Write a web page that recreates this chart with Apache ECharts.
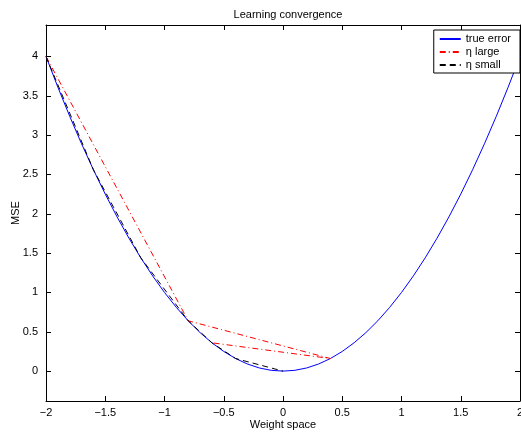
<!DOCTYPE html>
<html>
<head>
<meta charset="utf-8">
<script src="https://cdn.jsdelivr.net/npm/echarts@6/dist/echarts.min.js"></script>
<style>
  html, body { margin: 0; padding: 0; background: #fff; }
  #chart { width: 521px; height: 434px; }
</style>
</head>
<body>
<div id="chart"></div>
<script>
// true error curve
var trueX = [-2, -1.9, -1.8, -1.7, -1.6, -1.5, -1.4, -1.3, -1.2, -1.1, -1, -0.9, -0.8, -0.7, -0.6, -0.5, -0.4, -0.3, -0.2, -0.1, 0,
             0.1, 0.2, 0.3, 0.4, 0.5, 0.6, 0.7, 0.8, 0.9, 1, 1.1, 1.2, 1.3, 1.4, 1.5, 1.6, 1.7, 1.8, 1.9, 2];
var trueY = [4, 3.61, 3.24, 2.89, 2.56, 2.25, 1.96, 1.69, 1.44, 1.21, 1, 0.81, 0.64, 0.49, 0.36, 0.25, 0.16, 0.09, 0.04, 0.01, 0,
             0.01, 0.04, 0.09, 0.16, 0.25, 0.36, 0.49, 0.64, 0.81, 1, 1.21, 1.44, 1.69, 1.96, 2.25, 2.56, 2.89, 3.24, 3.61, 4];

// eta large steps
var largeX = [-2, -0.8, 0.4, -0.6];
var largeY = [4, 0.64, 0.16, 0.36];

// eta small steps
var smallX = [-2, -1.6, -1.2, -0.8, -0.6, -0.4, 0];
var smallY = [4, 2.56, 1.44, 0.64, 0.36, 0.16, 0];

var yTicks = [0, 0.5, 1, 1.5, 2, 2.5, 3, 3.5, 4];
var seriesNames = ['true error', '\u03b7 large', '\u03b7 small'];

function pairs(xs, ys) {
  return xs.map(function (x, i) { return [x, ys[i]]; });
}
function minus(v) {
  return String(v).replace('-', '\u2212');
}

var font = 'Liberation Sans, Arial, sans-serif';
var chart = echarts.init(document.getElementById('chart'));

var baseAxisLine = { show: true, onZero: false, lineStyle: { color: '#000', width: 1 } };
var baseTick = { show: true, inside: true, length: 5, lineStyle: { color: '#000', width: 1 } };

chart.setOption({
  animation: false,
  backgroundColor: '#fff',
  title: {
    text: 'Learning convergence',
    left: 283, top: 4, textAlign: 'center',
    textStyle: { fontFamily: font, fontSize: 11, fontWeight: 'normal', color: '#000' }
  },
  legend: {
    data: seriesNames,
    orient: 'vertical',
    right: 1, top: 30,
    itemWidth: 21, itemHeight: 8, itemGap: 1,
    padding: [3, 9, 2, 5],
    backgroundColor: '#fff',
    borderColor: '#000', borderWidth: 1, borderRadius: 0,
    selectedMode: false,
    itemStyle: { opacity: 0 },
    lineStyle: { type: 'inherit' },
    textStyle: { fontFamily: font, fontSize: 11, lineHeight: 12, color: '#000' }
  },
  grid: { left: 46, right: 1, top: 25, bottom: 33, containLabel: false, outerBoundsMode: 'none' },
  xAxis: [{
    type: 'value', min: -2, max: 2, interval: 0.5,
    name: 'Weight space', nameLocation: 'middle', nameGap: 18, nameMoveOverlap: false,
    nameTextStyle: { fontFamily: font, fontSize: 11, color: '#000' },
    axisLine: baseAxisLine, axisTick: baseTick,
    axisLabel: { color: '#000', fontFamily: font, fontSize: 11, margin: 6, formatter: minus },
    splitLine: { show: false }
  }, {
    type: 'value', min: -2, max: 2, interval: 0.5, position: 'top',
    axisLine: baseAxisLine, axisTick: baseTick,
    axisLabel: { show: false }, splitLine: { show: false }
  }],
  yAxis: [{
    type: 'value', min: -0.38, max: 4.4,
    name: 'MSE', nameLocation: 'middle', nameGap: 25, nameRotate: 90, nameMoveOverlap: false,
    nameTextStyle: { fontFamily: font, fontSize: 11, color: '#000' },
    axisLine: baseAxisLine,
    axisTick: Object.assign({ customValues: yTicks }, baseTick),
    axisLabel: { color: '#000', fontFamily: font, fontSize: 11, margin: 8, customValues: yTicks, formatter: minus },
    splitLine: { show: false }
  }, {
    type: 'value', min: -0.38, max: 4.4, position: 'right',
    axisLine: baseAxisLine,
    axisTick: Object.assign({ customValues: yTicks }, baseTick),
    axisLabel: { show: false }, splitLine: { show: false }
  }],
  series: [{
    name: seriesNames[0], type: 'line', symbol: 'none',
    data: pairs(trueX, trueY),
    lineStyle: { color: '#0000ff', width: 1 }, itemStyle: { color: '#0000ff' }
  }, {
    name: seriesNames[1], type: 'line', symbol: 'none',
    data: pairs(largeX, largeY),
    lineStyle: { color: '#ff0000', width: 1, type: [6, 3, 1, 3] }, itemStyle: { color: '#ff0000' }
  }, {
    name: seriesNames[2], type: 'line', symbol: 'none',
    data: pairs(smallX, smallY),
    lineStyle: { color: '#000', width: 1, type: [6, 4] }, itemStyle: { color: '#000' }
  }]
});
</script>
</body>
</html>
